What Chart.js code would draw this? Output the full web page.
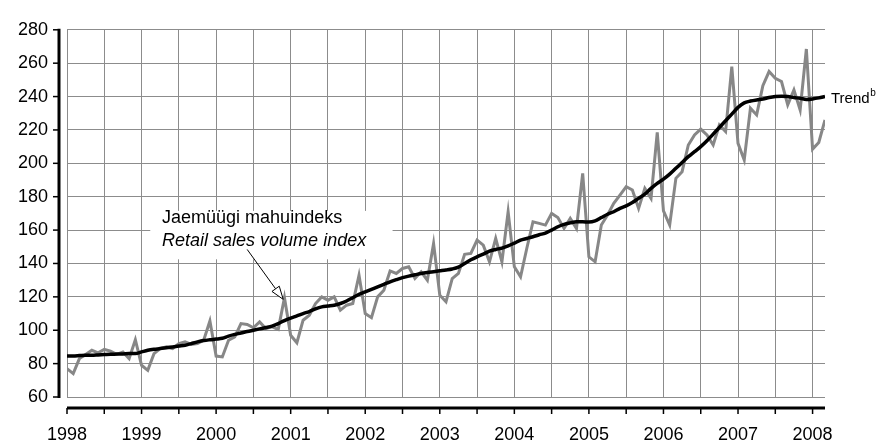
<!DOCTYPE html>
<html>
<head>
<meta charset="utf-8">
<title>Jaemüügi mahuindeks</title>
<script src="https://cdn.jsdelivr.net/npm/chart.js@4"></script>
<style>
  html, body { margin: 0; padding: 0; background: #fff; }
  #chart { display: block; }
</style>
</head>
<body>
<canvas id="chart" width="882" height="444"></canvas>
<script>
/* Jaemüügi mahuindeks, kuud 1998 jaanuar – 2008 märts */

const yearLabels = ["1998", "1999", "2000", "2001", "2002", "2003", "2004", "2005", "2006", "2007", "2008"];
const yTicks = [60, 80, 100, 120, 140, 160, 180, 200, 220, 240, 260, 280];

// Mahuindeks (hall joon), üks väärtus kuus
const indexValues = [
    77, 74, 83, 85.5, 88, 86.5, 88.5, 87.5, 85.5, 87, 83, 94.3,          // 1998
    79, 76, 86, 89, 90, 89, 92, 93, 91.5, 92, 94, 105.5,                 // 1999
    84.5, 84, 94, 96, 104, 103.5, 101.5, 105, 101, 102, 100.5, 119.5,    // 2000
    97, 92.5, 106, 109, 116, 120, 118, 120, 112, 115, 116, 133,          // 2001
    110, 107.5, 120, 124, 135.5, 134, 137, 138, 131, 135, 130, 152,      // 2002
    121, 117, 131, 134, 145.5, 146, 154, 151, 141, 155, 141, 171,        // 2003
    138, 132, 149, 165, 164, 163, 170, 167.5, 161, 167, 161, 194,        // 2004
    144, 141, 163, 169, 176, 181, 186, 184, 173, 185, 179, 218.5,        // 2005
    171.5, 163, 191, 195, 211, 217, 220.5, 217, 211, 223, 219, 258,      // 2006
    212, 202, 233, 229, 246.5, 255, 251, 249, 235, 244, 232, 268.5,      // 2007
    208.5, 212.5, 226                                                    // 2008
];

// Trend (must joon)
const trendValues = [
    84.5, 84.6, 84.8, 85, 85, 85.2, 85.4, 85.6, 85.7, 85.8, 86, 86,
    87, 88, 88.6, 89, 89.5, 90, 90.5, 91, 92, 93, 93.8, 94.3,
    94.7, 95.2, 96.5, 97.5, 98.3, 99.2, 100, 100.8, 101.6, 102.5, 104, 105.8,
    107.3, 108.6, 110, 111.2, 112.8, 114, 114.5, 115, 116, 117.5, 119.5, 121.5,
    123, 124.5, 126, 127.5, 129, 130.3, 131.5, 132.4, 133.2, 134, 134.6, 135.1,
    135.6, 136.1, 136.7, 137.8, 140, 142.2, 144, 145.6, 147.4, 148.4, 149.2, 150.5,
    152.2, 154, 155, 156, 157.2, 158.2, 160, 162, 163.4, 164.3, 165, 165,
    164.8, 165.5, 167.5, 169.5, 171, 173, 174.5, 176.5, 179, 181.5, 185, 188,
    190.5, 193.5, 197, 200.5, 204, 207, 210, 213.5, 217.5, 221.5, 225.5, 229.5,
    233.5, 236.2, 237.3, 238, 238.5, 239.4, 240, 240.2, 240, 239.4, 239, 238.3,
    238.6, 239.2, 240
];

const FONT = "'Liberation Sans', Arial, Helvetica, sans-serif";

/* ===============================
   Teljed nihkega + märkused
   =============================== */
const decorPlugin = {
    id: "decor",
    beforeDatasetsDraw(chart) {
        const { ctx, chartArea: a, scales: { x, y } } = chart;
        ctx.save();
        // valge kast teksti all
        const bx1 = x.getPixelForValue(13.4), bx2 = x.getPixelForValue(52.4);
        const by1 = y.getPixelForValue(171.5), by2 = y.getPixelForValue(142.5);
        ctx.fillStyle = "#fff";
        ctx.fillRect(bx1, by1, bx2 - bx1, by2 - by1);

        // y-telg
        ctx.strokeStyle = "#000";
        ctx.lineWidth = 3;
        ctx.beginPath();
        ctx.moveTo(a.left - 8, a.top - 1);
        ctx.lineTo(a.left - 8, a.bottom + 1);
        ctx.stroke();
        ctx.lineWidth = 1.5;
        yTicks.forEach(v => {
            const py = y.getPixelForValue(v);
            ctx.beginPath();
            ctx.moveTo(a.left - 14, py);
            ctx.lineTo(a.left - 8, py);
            ctx.stroke();
        });

        // x-telg
        ctx.lineWidth = 3;
        ctx.beginPath();
        ctx.moveTo(a.left, a.bottom + 11);
        ctx.lineTo(a.right, a.bottom + 11);
        ctx.stroke();
        ctx.lineWidth = 1.5;
        x.ticks.forEach(t => {
            const px = x.getPixelForValue(t.value);
            ctx.beginPath();
            ctx.moveTo(px, a.bottom + 11);
            ctx.lineTo(px, a.bottom + 17);
            ctx.stroke();
        });
        ctx.restore();
    },
    afterDatasetsDraw(chart) {
        const { ctx, scales: { x, y } } = chart;
        ctx.save();
        ctx.fillStyle = "#000";
        ctx.textBaseline = "alphabetic";
        ctx.textAlign = "left";
        const tx = x.getPixelForValue(15.3);
        ctx.font = "18px " + FONT;
        ctx.fillText("Jaemüügi mahuindeks", tx, y.getPixelForValue(164.5));
        ctx.font = "italic 18px " + FONT;
        ctx.fillText("Retail sales volume index", tx, y.getPixelForValue(150.7));

        // nool
        const x0 = x.getPixelForValue(29), y0 = y.getPixelForValue(148.4);
        const x1 = x.getPixelForValue(34.8), y1 = y.getPixelForValue(118.5);
        const ang = Math.atan2(y1 - y0, x1 - x0);
        const hl = 13, hw = 4.5;
        const bx = x1 - hl * Math.cos(ang), by = y1 - hl * Math.sin(ang);
        ctx.strokeStyle = "#000";
        ctx.lineWidth = 1;
        ctx.beginPath();
        ctx.moveTo(x0, y0);
        ctx.lineTo(bx, by);
        ctx.stroke();
        ctx.beginPath();
        ctx.moveTo(x1, y1);
        ctx.lineTo(bx + hw * Math.sin(ang), by - hw * Math.cos(ang));
        ctx.lineTo(bx - hw * Math.sin(ang), by + hw * Math.cos(ang));
        ctx.closePath();
        ctx.fillStyle = "#fff";
        ctx.fill();
        ctx.stroke();

        // Trend^b
        const last = trendValues.length - 1;
        const lx = x.getPixelForValue(last) + 6;
        const ly = y.getPixelForValue(trendValues[last]) + 6;
        ctx.fillStyle = "#000";
        ctx.font = "15px " + FONT;
        ctx.fillText("Trend", lx, ly);
        const w = ctx.measureText("Trend").width;
        ctx.font = "10px " + FONT;
        ctx.fillText("b", lx + w + 0.5, ly - 7);
        ctx.restore();
    }
};

new Chart(document.getElementById("chart"), {
    type: "line",
    data: {
        datasets: [
            {
                label: "Trend",
                data: trendValues.map((v, i) => ({ x: i, y: v })),
                borderColor: "#000",
                borderWidth: 3.5,
                pointRadius: 0,
                cubicInterpolationMode: "monotone",
                order: 0
            },
            {
                label: "Jaemüügi mahuindeks",
                data: indexValues.map((v, i) => ({ x: i, y: v })),
                borderColor: "#878787",
                borderWidth: 3,
                pointRadius: 0,
                tension: 0,
                order: 1
            }
        ]
    },
    options: {
        responsive: false,
        animation: false,
        devicePixelRatio: 1,
        layout: { padding: { top: 19, right: 57, left: 0, bottom: 0 } },
        plugins: {
            legend: { display: false },
            tooltip: { enabled: false }
        },
        scales: {
            x: {
                type: "linear",
                min: 0,
                max: indexValues.length - 1,
                afterFit: s => { s.height = 47; },
                border: { display: false },
                grid: { color: "#8c8c8c", lineWidth: 1, drawTicks: false },
                ticks: {
                    stepSize: 6,
                    includeBounds: false,
                    autoSkip: false,
                    maxRotation: 0,
                    padding: 27,
                    color: "#000",
                    font: { family: FONT, size: 18 },
                    callback: v => (v % 12 === 0 ? yearLabels[v / 12] : "")
                }
            },
            y: {
                min: 60,
                max: 280,
                afterFit: s => { s.width = 67; },
                border: { display: false },
                grid: { color: "#8c8c8c", lineWidth: 1, drawTicks: false },
                ticks: {
                    stepSize: 20,
                    padding: 19,
                    color: "#000",
                    font: { family: FONT, size: 18 }
                }
            }
        }
    },
    plugins: [decorPlugin]
});
</script>
</body>
</html>
